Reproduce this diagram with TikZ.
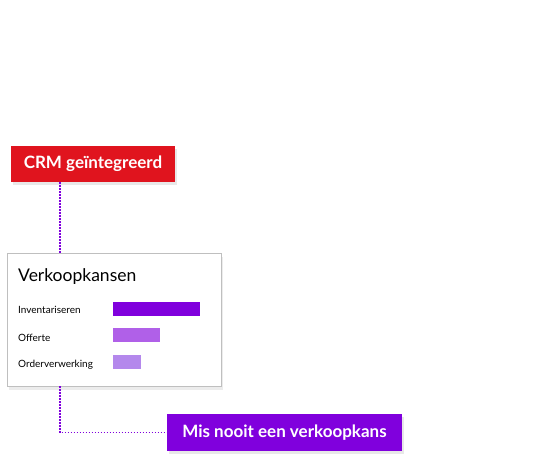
\documentclass[tikz,border=0pt]{standalone}
\usepackage{fontspec}
\setmainfont{Lato}
\usetikzlibrary{shadows}
\definecolor{crmred}{HTML}{E0141E}
\definecolor{kanspurple}{HTML}{8000DD}
\definecolor{barmid}{HTML}{B060E8}
\definecolor{barlight}{HTML}{B488EC}
\tikzset{
  tag/.style={rectangle, text=white, font=\fontsize{17}{20}\selectfont\bfseries, inner sep=0pt,
    drop shadow={opacity=0.18, shadow xshift=2pt, shadow yshift=-3pt}},
  bar/.style={rectangle, inner sep=0pt, minimum height=14pt, anchor=west},
  lbl/.style={anchor=west, inner sep=0pt, font=\fontsize{10}{12}\selectfont},
  link/.style={kanspurple, line width=1.4pt, dash pattern=on 1.4pt off 1.6pt}
}
\begin{document}
\begin{tikzpicture}[x=1pt,y=-1pt]
\useasboundingbox (0,0) rectangle (541,463);
\node[tag, fill=crmred, minimum width=164pt, minimum height=36pt] (crm) at (93,164){CRM geïntegreerd};
\node[rectangle, draw=black!25, fill=white, minimum width=214pt, minimum height=133pt,
  drop shadow={opacity=0.15, shadow xshift=2pt, shadow yshift=-4pt}] (card) at (114,319.5){};
\node[anchor=base west, inner sep=0pt, font=\fontsize{17.5}{20}\selectfont] (title) at (18,281){Verkoopkansen};
\node[lbl] (l1) at (18,310){Inventariseren};
\node[lbl] (l2) at (18,338){Offerte};
\node[lbl] (l3) at (18,365){Orderverwerking};
\node[bar, fill=kanspurple, minimum width=87pt] (b1) at (113,309){};
\node[bar, fill=barmid, minimum width=47pt] (b2) at (113,335){};
\node[bar, fill=barlight, minimum width=28pt] (b3) at (113,362){};
\node[tag, fill=kanspurple, minimum width=235pt, minimum height=37pt] (mis) at (284.5,432.5){Mis nooit een verkoopkans};
\coordinate (bend) at (60,432.5);
\draw[link] (crm.south -| bend) -- (card.north -| bend);
\draw[link] (card.south -| bend) -- (bend) -- (mis.west);
\end{tikzpicture}
\end{document}
